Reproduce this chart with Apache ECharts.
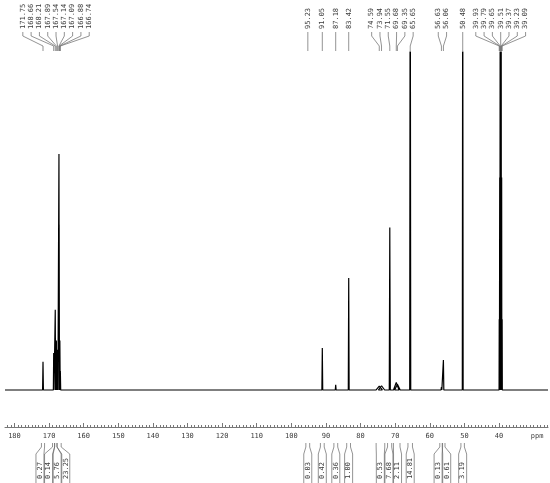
<!DOCTYPE html>
<html>
<head>
<meta charset="utf-8">
<script src="https://cdn.jsdelivr.net/npm/echarts@6/dist/echarts.min.js"></script>
<style>
  html, body { margin: 0; padding: 0; background: #fff; }
  #spectrum { width: 550px; height: 483px; }
</style>
</head>
<body>
<div id="spectrum"></div>
<script>
// peaks: chemical shift (ppm), height, half width (ppm)
const peakPpm = [171.75, 168.66, 168.21, 167.89, 167.54, 167.14, 167.09, 166.88, 166.74,
    95.23, 91.05, 87.18, 83.42, 74.59, 73.94, 71.55, 69.68, 69.35, 65.65,
    56.63, 56.06, 50.48, 39.93, 39.79, 39.65, 39.51, 39.37, 39.23, 39.09];
const peakHeight = [12, 15.7, 34, 21, 17, 100, 70, 21, 8,
    0.6, 17.8, 2.2, 47.5, 1.6, 1.8, 68.8, 3.2, 2.4, 220,
    1.2, 12.7, 200, 30, 90, 200, 260, 200, 90, 30];
const peakWidth = [0.12, 0.1, 0.1, 0.1, 0.1, 0.1, 0.1, 0.1, 0.1,
    0.12, 0.12, 0.12, 0.12, 0.9, 0.9, 0.15, 0.8, 0.8, 0.15,
    0.12, 0.12, 0.12, 0.05, 0.05, 0.05, 0.05, 0.05, 0.05, 0.05];

// integrals: range and value
const integralFrom = [172.2, 169.0, 168.4, 167.7, 95.8, 91.6, 87.7, 84.0, 75.5, 72.2, 70.5, 66.3, 57.1, 56.4, 51.0];
const integralTo = [171.3, 168.4, 167.7, 166.5, 94.7, 90.5, 86.6, 82.9, 73.0, 71.0, 68.6, 65.0, 56.3, 55.6, 50.0];
const integralValue = ['0.27', '0.14', '5.76', '23.25', '0.03', '0.42', '0.36', '1.00', '0.53', '7.68', '2.11', '14.81', '0.13', '0.61', '3.19'];

const axisTicks = [180, 170, 160, 150, 140, 130, 120, 110, 100, 90, 80, 70, 60, 50, 40];
const unitAt = 29;
const xMin = 25.84, xMax = 182.73;

const FONT = '7px "DejaVu Sans Mono"';
const TEXT_COLOR = '#3a3a3a';
const LINE_COLOR = '#666';

// stick spectrum built from the peak list
function buildSpectrum() {
    const order = peakPpm.map((p, i) => i).sort((a, b) => peakPpm[b] - peakPpm[a]);
    const pts = [[xMax, 0]];
    order.forEach(i => {
        pts.push([peakPpm[i] + peakWidth[i], 0]);
        pts.push([peakPpm[i], peakHeight[i]]);
        pts.push([peakPpm[i] - peakWidth[i], 0]);
    });
    pts.push([xMin, 0]);
    return pts;
}

const minorTicks = [];
for (let v = Math.ceil(xMin); v <= Math.floor(xMax); v++) minorTicks.push(v);

const chart = echarts.init(document.getElementById('spectrum'));

chart.setOption({
    animation: false,
    backgroundColor: '#fff',
    grid: { left: 5, right: 2, top: 52, bottom: 56 },
    xAxis: [{
        type: 'value',
        min: xMin,
        max: xMax,
        inverse: true,
        splitLine: { show: false },
        axisLine: { onZero: false, lineStyle: { color: '#777', width: 1 } },
        axisTick: { inside: true, length: 2, customValues: minorTicks, lineStyle: { color: '#777' } },
        axisLabel: {
            customValues: axisTicks.concat([unitAt]),
            formatter: v => (v === unitAt ? 'ppm' : String(v)),
            color: TEXT_COLOR,
            fontFamily: 'DejaVu Sans Mono',
            fontSize: 7,
            margin: 6
        }
    }, {
        type: 'value',
        min: xMin,
        max: xMax,
        inverse: true,
        position: 'bottom',
        splitLine: { show: false },
        axisLine: { show: false, onZero: false },
        axisTick: { inside: true, length: 4, customValues: axisTicks, lineStyle: { color: '#777' } },
        axisLabel: { show: false }
    }],
    yAxis: { type: 'value', min: -15.68, max: 143.2, show: false },
    series: [{
        type: 'line',
        data: buildSpectrum(),
        showSymbol: false,
        clip: true,
        lineStyle: { color: '#000', width: 1.2 }
    }]
});

function toX(ppm) {
    return chart.convertToPixel({ gridIndex: 0 }, [ppm, 0])[0];
}

// spread labels so they keep a minimum gap, each group centred on its targets
function spread(targets, gap) {
    let groups = targets.map(t => ({ n: 1, sum: t }));
    let merged = true;
    while (merged) {
        merged = false;
        for (let i = 0; i < groups.length - 1; i++) {
            const a = groups[i], b = groups[i + 1];
            const aEnd = a.sum / a.n + (a.n - 1) / 2 * gap;
            const bStart = b.sum / b.n - (b.n - 1) / 2 * gap;
            if (bStart - aEnd < gap) {
                groups.splice(i, 2, { n: a.n + b.n, sum: a.sum + b.sum });
                merged = true;
                break;
            }
        }
    }
    const out = [];
    groups.forEach(g => {
        const start = g.sum / g.n - (g.n - 1) / 2 * gap;
        for (let k = 0; k < g.n; k++) out.push(start + k * gap);
    });
    return out;
}

const graphics = [];

// peak labels on top
const peakOrder = peakPpm.map((p, i) => i).sort((a, b) => peakPpm[b] - peakPpm[a]);
const peakX = peakOrder.map(i => toX(peakPpm[i]));
const peakLabelX = spread(peakX, 8.3);
peakOrder.forEach((i, k) => {
    const lx = peakLabelX[k], px = peakX[k];
    graphics.push({
        type: 'text', x: lx, y: 29, rotation: Math.PI / 2, silent: true,
        style: { text: peakPpm[i].toFixed(2), font: FONT, fill: TEXT_COLOR, align: 'left', verticalAlign: 'middle' }
    });
    graphics.push({
        type: 'polyline', silent: true,
        shape: { points: [[lx, 32], [lx, 36], [px, 46], [px, 51]] },
        style: { stroke: LINE_COLOR, lineWidth: 0.7, fill: null }
    });
});

// integrals below the axis
const intX = integralFrom.map((f, i) => (toX(f) + toX(integralTo[i])) / 2);
const intLabelX = spread(intX, 8.6);
integralValue.forEach((val, i) => {
    const x1 = toX(integralFrom[i]), x2 = toX(integralTo[i]), lx = intLabelX[i];
    graphics.push({
        type: 'polyline', silent: true,
        shape: { points: [[x1, 443], [x1, 447], [lx - 4, 454], [lx - 4, 490]] },
        style: { stroke: LINE_COLOR, lineWidth: 0.7, fill: null }
    });
    graphics.push({
        type: 'polyline', silent: true,
        shape: { points: [[x2, 443], [x2, 447], [lx + 4, 454], [lx + 4, 490]] },
        style: { stroke: LINE_COLOR, lineWidth: 0.7, fill: null }
    });
    graphics.push({
        type: 'text', x: lx, y: 479, rotation: Math.PI / 2, silent: true,
        style: { text: val, font: FONT, fill: TEXT_COLOR, align: 'left', verticalAlign: 'middle' }
    });
});

chart.setOption({ graphic: graphics });

window.addEventListener('resize', () => chart.resize());
</script>
</body>
</html>
